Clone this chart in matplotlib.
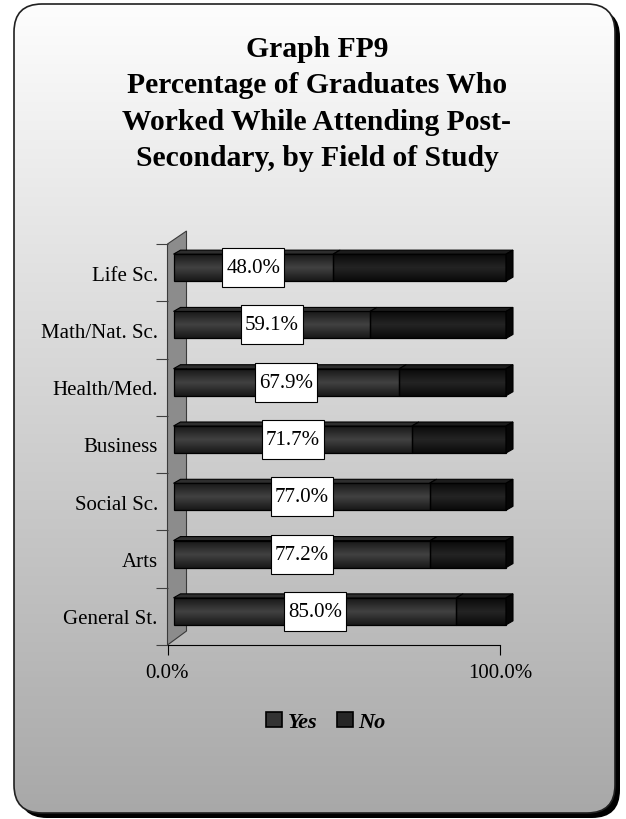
"""Graph FP9 - graduates who worked while attending post-secondary, by field of study."""
import numpy as np
import matplotlib
matplotlib.use("Agg")
import matplotlib.pyplot as plt
from matplotlib.patches import FancyBboxPatch, Rectangle, Polygon, Patch
from matplotlib.colors import LinearSegmentedColormap

fields = ["General St.", "Arts", "Social Sc.", "Business", "Health/Med.", "Math/Nat. Sc.", "Life Sc."]
yes_pct = [85.0, 77.2, 77.0, 71.7, 67.9, 59.1, 48.0]
no_pct = [15.0, 22.8, 23.0, 28.3, 32.1, 40.9, 52.0]
series = ["Yes", "No"]
x_ticks = [0, 100]
x_ticklabels = ["0.0%", "100.0%"]

W, H = 626, 820
SERIF = "Liberation Serif"
fig = plt.figure(figsize=(W / 100, H / 100), dpi=100)

# --- rounded panel with gradient + drop shadow (pixel coordinates) ---
bg = fig.add_axes([0, 0, 1, 1])
bg.axis("off")
shadow = FancyBboxPatch((19, 10), 601, 809, boxstyle="round,pad=0,rounding_size=28",
                        fc="black", ec="none")
bg.add_patch(shadow)
panel = FancyBboxPatch((14, 5), 601, 809, boxstyle="round,pad=0,rounding_size=28",
                       fc="none", ec="#202020", lw=1.2, zorder=3)
bg.add_patch(panel)
grad = LinearSegmentedColormap.from_list("panel", ["#fdfdfd", "#a8a8a8"])
im = bg.imshow(np.linspace(0, 1, 256)[:, None], extent=[14, 615, 814, 5], cmap=grad,
               aspect="auto", zorder=2)
im.set_clip_path(panel)
bg.set_xlim(0, W); bg.set_ylim(H, 0)

bg.text(317, 104, "Graph FP9\nPercentage of Graduates Who\nWorked While Attending Post-\nSecondary, by Field of Study",
        ha="center", va="center", fontsize=21.3, fontweight="bold", family=SERIF,
        linespacing=1.45, zorder=4)

# --- plot area ---
L, R, B, T = 167.5, 500, 646, 245
ax = fig.add_axes([L / W, 1 - B / H, (R - L) / W, (B - T) / H])
ax.set_xlim(0, 100); ax.set_ylim(-0.5, len(fields) - 0.5)
ax.patch.set_visible(False)
px = 100 / (R - L)              # data units per pixel (x)
py = len(fields) / (B - T)      # data units per pixel (y)

# back wall
ylo, yhi = -0.5, len(fields) - 0.5
wall = Polygon([(0, ylo), (0, yhi), (19 * px, yhi + 13 * py), (19 * px, ylo + 14 * py)],
               closed=True, fc="#8c8c8c", ec="#3a3a3a", lw=0.8, clip_on=False, zorder=1)
ax.add_patch(wall)

dx0, dy0 = 6 * px, 5 * py       # bar shift into depth
h = 27 * py                     # bar front-face height
tdx, tdy = 7 * px, 4 * py       # bar depth faces
cm_yes = LinearSegmentedColormap.from_list("yes", ["#181818", "#424242", "#181818"])
cm_no = LinearSegmentedColormap.from_list("no", ["#0a0a0a", "#242424", "#0a0a0a"])
shade = np.linspace(0, 1, 64)[:, None]

for i, (yv, nv) in enumerate(zip(yes_pct, no_pct)):
    y0 = i + dy0 - h / 2
    for x0, w, cm, top in ((dx0, yv, cm_yes, "#2e2e2e"), (dx0 + yv, nv, cm_no, "#1c1c1c")):
        rect = Rectangle((x0, y0), w, h, fc="none", ec="black", lw=0.9, clip_on=False, zorder=4)
        ax.add_patch(rect)
        img = ax.imshow(shade, extent=[x0, x0 + w, y0, y0 + h], cmap=cm, aspect="auto",
                        origin="lower", zorder=3, clip_on=True)
        img.set_clip_path(rect)
        ax.add_patch(Polygon([(x0, y0 + h), (x0 + tdx, y0 + h + tdy), (x0 + w + tdx, y0 + h + tdy),
                              (x0 + w, y0 + h)], closed=True, fc=top, ec="black", lw=0.8,
                             clip_on=False, zorder=4))
    x1 = dx0 + yv + nv
    ax.add_patch(Polygon([(x1, y0), (x1, y0 + h), (x1 + tdx, y0 + h + tdy), (x1 + tdx, y0 + tdy)],
                         closed=True, fc="#060606", ec="black", lw=0.8, clip_on=False, zorder=4))
    # value label in a white box (62 x 39 px)
    cx, cy = dx0 + yv / 2, i + dy0
    ax.add_patch(Rectangle((cx - 31 * px, cy - 19.5 * py), 62 * px, 39 * py, fc="white",
                           ec="black", lw=0.8, clip_on=False, zorder=5))
    ax.text(cx, cy, f"{yv:.1f}%", ha="center", va="center", fontsize=15,
            family=SERIF, zorder=6)

ax.set_xlim(0, 100); ax.set_ylim(-0.5, len(fields) - 0.5)
ax.set_yticks(range(len(fields)))
ax.set_yticklabels(fields, family=SERIF, fontsize=15)
ax.set_yticks(np.arange(len(fields) + 1) - 0.5, minor=True)
ax.tick_params(axis="y", which="major", length=0, pad=7)
ax.tick_params(axis="y", which="minor", length=9, width=0.8, color="#404040")
ax.set_xticks(x_ticks)
ax.set_xticklabels(x_ticklabels, family=SERIF, fontsize=15)
ax.tick_params(axis="x", length=7, width=0.8, pad=6)
for s in ("top", "right", "left"):
    ax.spines[s].set_visible(False)
ax.spines["bottom"].set_linewidth(0.8)

handles = [Patch(fc="#333333", ec="black", lw=1.2), Patch(fc="#262626", ec="black", lw=1.2)]
fig.legend(handles, series, loc="center", bbox_to_anchor=(326 / W, 1 - 723 / H), ncol=2,
           frameon=False, prop=dict(family=SERIF, weight="bold", style="italic", size=16),
           handlelength=0.7, handleheight=0.7, handletextpad=0.25, columnspacing=0.9)

fig.savefig("out.png", dpi=100)
